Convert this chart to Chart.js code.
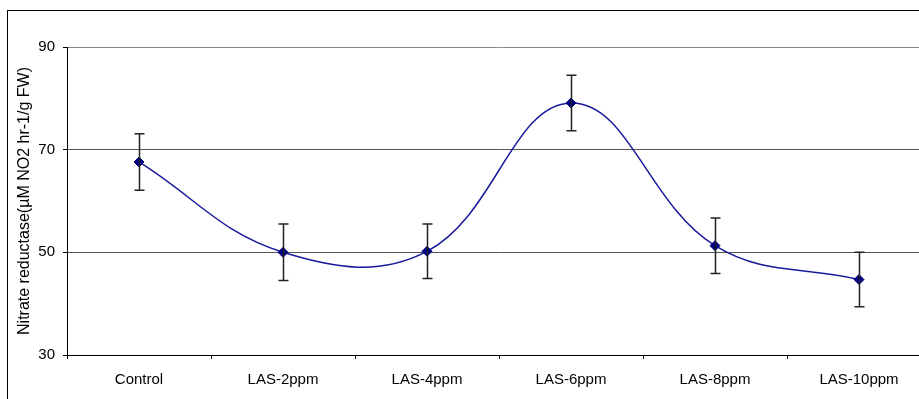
<!DOCTYPE html>
<html lang="en">
<head>
    <meta charset="UTF-8">
    <title>Nitrate reductase</title>
    <script src="https://cdn.jsdelivr.net/npm/chart.js"></script>
    <style>
        html, body {
            margin: 0;
            padding: 0;
            background: #fff;
            overflow: hidden;
            width: 919px;
            height: 399px;
        }
        canvas {
            position: absolute;
            left: 0;
            top: 0;
        }
    </style>
</head>
<body>
    <canvas id="grafico" width="937" height="399" style="width:937px;height:399px"></canvas>

    <script>
        const categorias = ["Control", "LAS-2ppm", "LAS-4ppm", "LAS-6ppm", "LAS-8ppm", "LAS-10ppm"];
        const medias = [67.6, 50.0, 50.2, 79.1, 51.3, 44.7];
        const errores = [5.5, 5.5, 5.3, 5.4, 5.4, 5.3];
        const ticksY = [30, 50, 70, 90];

        // barras de error y marco exterior
        const barrasError = {
            id: "barrasError",
            afterDatasetsDraw(chart) {
                const ctx = chart.ctx;
                const x = chart.scales.x;
                const y = chart.scales.y;
                ctx.save();
                ctx.strokeStyle = "#222";
                ctx.lineWidth = 1.5;
                medias.forEach((m, i) => {
                    const px = Math.round(x.getPixelForValue(i)) + 0.5;
                    const top = y.getPixelForValue(m + errores[i]);
                    const bot = y.getPixelForValue(m - errores[i]);
                    ctx.beginPath();
                    ctx.moveTo(px, top);
                    ctx.lineTo(px, bot);
                    ctx.moveTo(px - 5, top);
                    ctx.lineTo(px + 5, top);
                    ctx.moveTo(px - 5, bot);
                    ctx.lineTo(px + 5, bot);
                    ctx.stroke();
                });
                ctx.restore();
            },
            afterDraw(chart) {
                const ctx = chart.ctx;
                ctx.save();
                ctx.strokeStyle = "#000";
                ctx.lineWidth = 1;
                ctx.strokeRect(7.5, 10.5, 1000, 1000);
                ctx.restore();
            }
        };

        const ctx = document.getElementById("grafico").getContext("2d");
        new Chart(ctx, {
            type: "line",
            data: {
                labels: categorias,
                datasets: [{
                    data: medias,
                    borderColor: "#1a1a9c",
                    borderWidth: 1.5,
                    tension: 0.4,
                    fill: false,
                    pointStyle: "rectRot",
                    pointRadius: 5,
                    pointBackgroundColor: "#000080",
                    pointBorderColor: "#000080",
                    pointBorderWidth: 1
                }]
            },
            options: {
                responsive: false,
                animation: false,
                layout: { padding: { top: 47, left: 0, right: 0, bottom: 0 } },
                plugins: {
                    legend: { display: false },
                    tooltip: { enabled: false }
                },
                scales: {
                    x: {
                        offset: true,
                        afterFit(s) { s.height = 44; },
                        border: { color: "#000", width: 1 },
                        grid: {
                            offset: true,
                            drawOnChartArea: false,
                            tickLength: 4,
                            tickColor: "#000"
                        },
                        ticks: {
                            padding: 12,
                            color: "#000",
                            font: { family: "Liberation Sans", size: 15 },
                            maxRotation: 0
                        }
                    },
                    y: {
                        min: 30,
                        max: 90,
                        afterFit(s) { s.width = 67; },
                        afterBuildTicks(s) { s.ticks = ticksY.map(v => ({ value: v })); },
                        border: { color: "#000", width: 1 },
                        grid: {
                            color: (c) => c.tick && c.tick.value === 90 ? "#888" : "#555",
                            tickLength: 4,
                            tickColor: "#000"
                        },
                        ticks: {
                            padding: 8,
                            color: "#000",
                            font: { family: "Liberation Sans", size: 15 }
                        },
                        title: {
                            display: true,
                            text: "Nitrate reductase(µM NO2 hr-1/g FW)",
                            color: "#000",
                            font: { family: "Liberation Sans", size: 16 },
                            padding: { top: 15, bottom: 0 }
                        }
                    }
                }
            },
            plugins: [barrasError]
        });
    </script>
</body>
</html>
